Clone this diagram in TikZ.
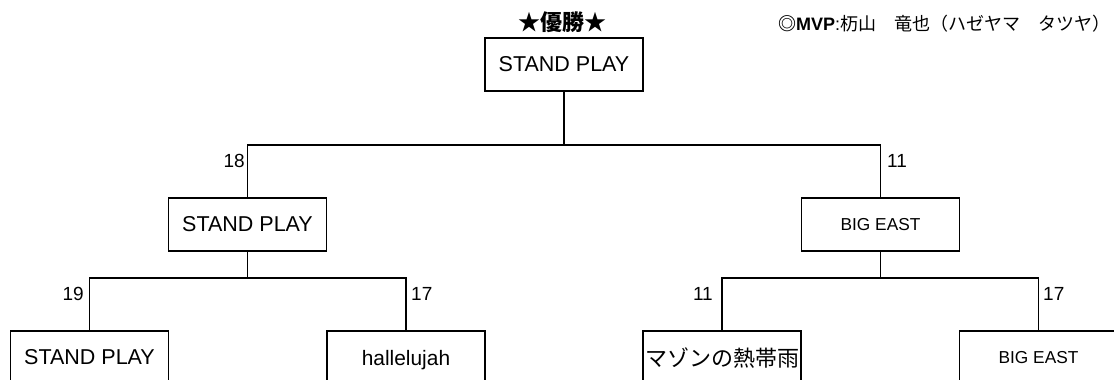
\documentclass[tikz,border=0pt]{standalone}
\usepackage{fontspec}
\setmainfont{Liberation Sans}
\newfontfamily\cjk{Noto Sans CJK JP}
\begin{document}
\begin{tikzpicture}[x=1pt,y=-1pt,
  box/.style={draw, line width=1.6pt, minimum width=158pt, minimum height=53pt, inner sep=0pt},
  big/.style={font=\fontsize{21.5}{24}\selectfont},
  small/.style={font=\fontsize{17.3}{20}\selectfont},
  score/.style={font=\fontsize{19}{22}\selectfont, inner sep=0pt},
  link/.style={line width=1.6pt}]
\clip (0,0) rectangle (1114,380);
\fill[white] (0,0) rectangle (1114,380);
% boxes
\node[box,big] (champ) at (564,64.5) {STAND PLAY};
\node[box,big] (sL) at (247.5,224.5) {STAND PLAY};
\node[box,small] (sR) at (880.5,224.5) {BIG EAST};
\node[box,big] (b1) at (89.5,357.5) {STAND PLAY};
\node[box,font=\fontsize{20.9}{24}\selectfont, text depth=0pt] (b2) at (406,357.5) {hallelujah};
\node[box,font=\fontsize{22}{24}\selectfont\cjk] (b3) at (722,357.5) {マゾンの熱帯雨};
\node[box,small] (b4) at (1038.5,357.5) {BIG EAST};
% connectors
\coordinate (j0) at (564,145);
\coordinate (j1) at (247.5,278);
\coordinate (j2) at (880.5,278);
\draw[link] (champ.south) -- (j0);
\draw[link] (sL.north) |- (j0) -| (sR.north);
\draw[link] (sL.south) -- (j1);
\draw[link] (b1.north) |- (j1) -| (b2.north);
\draw[link] (sR.south) -- (j2);
\draw[link] (b3.north) |- (j2) -| (b4.north);
% scores
\node[score, anchor=base east] (s18) at (245,167) {18};
\node[score, anchor=base west] (s11a) at (887,167) {11};
\node[score, anchor=base east] (s19) at (84,300) {19};
\node[score, anchor=base west] (s17a) at (411,300) {17};
\node[score, anchor=base east] (s11b) at (713,300) {11};
\node[score, anchor=base west] (s17b) at (1043,300) {17};
% titles
\node[anchor=base, inner sep=0pt, font=\fontsize{22}{24}\selectfont\cjk\bfseries] (title) at (562,30) {★優勝★};
\node[anchor=base west, inner sep=0pt, font=\fontsize{18}{22}\selectfont] (mvp) at (778,30) {{\cjk\bfseries ◎}\textbf{MVP}:{\cjk 杤山　竜也（ハゼヤマ　タツヤ）}};
\end{tikzpicture}
\end{document}
